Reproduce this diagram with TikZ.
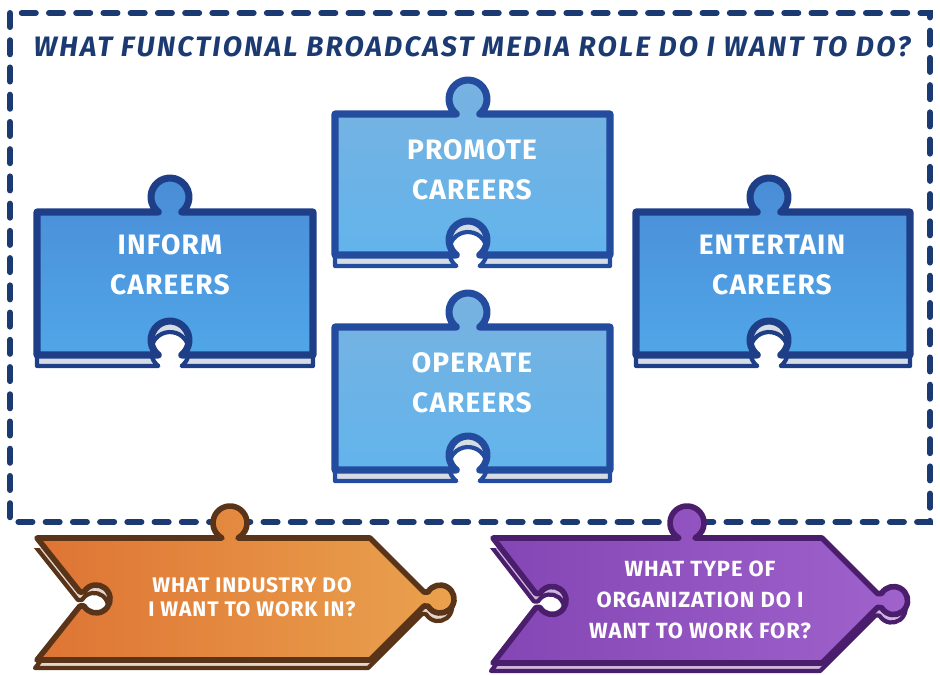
\documentclass[tikz,border=0pt]{standalone}
\usepackage{fontspec}
\usepackage{tikz}
\usetikzlibrary{calc}
\newfontfamily\handfont{Fira Sans}[LetterSpace=4]
\newfontfamily\headfont{Fira Sans}[LetterSpace=8]
\definecolor{framec}{HTML}{1C3A72}
\definecolor{blueln}{HTML}{244C9E}
\definecolor{darkln}{HTML}{1E3F88}
\definecolor{lightbl}{HTML}{78B2E0}
\definecolor{lightbl2}{HTML}{62B4EC}
\definecolor{midbl}{HTML}{4A8CD6}
\definecolor{midbl2}{HTML}{50A6E8}
\definecolor{shelfc}{HTML}{D6DCE4}
\definecolor{orgc}{HTML}{DE7434}
\definecolor{orgc2}{HTML}{EAA24E}
\definecolor{orgln}{HTML}{5A3418}
\definecolor{orgsh}{HTML}{E2D6CC}
\definecolor{purc}{HTML}{8446B4}
\definecolor{purc2}{HTML}{A062CC}
\definecolor{purln}{HTML}{4A1E6C}
\definecolor{pursh}{HTML}{CDB6DC}
% blue piece: top-left x, top-left y, width, height (pixel units, y down)
\newcommand{\piecepath}[4]{(#1,#2) -- ({#1+121.3},#2)
  arc[start angle=128,end angle=412,radius=19] -- ({#1+#3},#2)
  -- ({#1+#3},{#2+#4}) -- ({#1+144.7},{#2+#4})
  arc[start angle=52,end angle=-232,radius=19] -- (#1,{#2+#4}) -- cycle}
% arrow piece: left x, right x, top y, bottom y, knob x
\newcommand{\arrowpath}[5]{(#1,#3) -- ({#5-8},#3)
  arc[start angle=118.1,end angle=421.9,radius=17] -- (#2,#3)
  -- ({#2+(#4-#3)/2-7},{(#3+#4)/2-7}) -- ({#2+(#4-#3)/2-3},{(#3+#4)/2-7})
  arc[start angle=-149.7,end angle=149.7,radius=14]
  -- ({#2+(#4-#3)/2-7},{(#3+#4)/2+7}) -- (#2,#4) -- (#1,#4)
  -- ({#1+43},{(#3+#4)/2+7}) -- ({#1+47},{(#3+#4)/2+7})
  arc[start angle=149.7,end angle=-149.7,radius=14]
  -- ({#1+43},{(#3+#4)/2-7}) -- cycle}
\tikzset{
  frm/.style={framec,line width=3.4pt,line cap=round,dash pattern=on 8pt off 7.5pt},
  pz/.style={line width=4pt,line join=round},
  sh/.style={line width=2.4pt,line join=round},
  ptx/.style={text=white,font=\handfont\bfseries\fontsize{16}{22.7}\selectfont,align=center},
  qtx/.style={text=white,font=\handfont\bfseries\fontsize{12}{13.5}\selectfont,align=center}
}
\begin{document}
\begin{tikzpicture}[x=0.02cm,y=-0.02cm]
\useasboundingbox (0,0) rectangle (940,674);
% dashed frame and heading
\draw[frm] (10,13) rectangle (930,522);
\node[text=framec,font=\headfont\bfseries\itshape\fontsize{16}{18}\selectfont] (title) at (472,47)
  {WHAT FUNCTIONAL BROADCAST MEDIA ROLE DO I WANT TO DO?};
% blue pieces: shelf first, then the face
\foreach \px/\py/\pw/\ph/\fa/\fb/\ln in {335/114/275/141/lightbl/lightbl2/blueln,
    335/327/275/143/lightbl/lightbl2/blueln,
    37/212/276/143/midbl/midbl2/darkln,
    636/212/274/143/midbl/midbl2/darkln}{
  \begin{scope}
    \clip (\px-10,\py+\ph-42) rectangle (\px+\pw+10,\py+\ph+20);
    \draw[sh,draw=\ln,fill=shelfc,shift={(0,11)}] \piecepath{\px}{\py}{\pw}{\ph};
  \end{scope}
  \draw[pz,draw=\ln,top color=\fa,bottom color=\fb] \piecepath{\px}{\py}{\pw}{\ph};
}
\node[ptx] (promote) at (472,170) {PROMOTE\\CAREERS};
\node[ptx] (operate) at (472,383) {OPERATE\\CAREERS};
\node[ptx] (inform) at (170,265) {INFORM\\CAREERS};
\node[ptx] (entertain) at (772,265) {ENTERTAIN\\CAREERS};
% arrow pieces
\begin{scope}
  \clip (20,548) rectangle (940,674);
  \draw[sh,draw=orgln,fill=orgsh,shift={(-2,8)}] \arrowpath{37}{370}{538}{660}{230};
  \draw[sh,draw=purln,fill=pursh,shift={(-2,8)}] \arrowpath{493}{822}{538}{663}{687};
\end{scope}
\draw[pz,line width=3.2pt,draw=orgln,left color=orgc,right color=orgc2] \arrowpath{37}{370}{538}{660}{230};
\draw[pz,line width=3.2pt,draw=purln,left color=purc,right color=purc2] \arrowpath{493}{822}{538}{663}{687};
\node[qtx] (industry) at (252,597) {WHAT INDUSTRY DO\\I WANT TO WORK IN?};
\node[qtx,font=\handfont\bfseries\fontsize{12.5}{17.6}\selectfont] (orgtype) at (700,600)
  {WHAT TYPE OF\\ORGANIZATION DO I\\WANT TO WORK FOR?};
\end{tikzpicture}
\end{document}
